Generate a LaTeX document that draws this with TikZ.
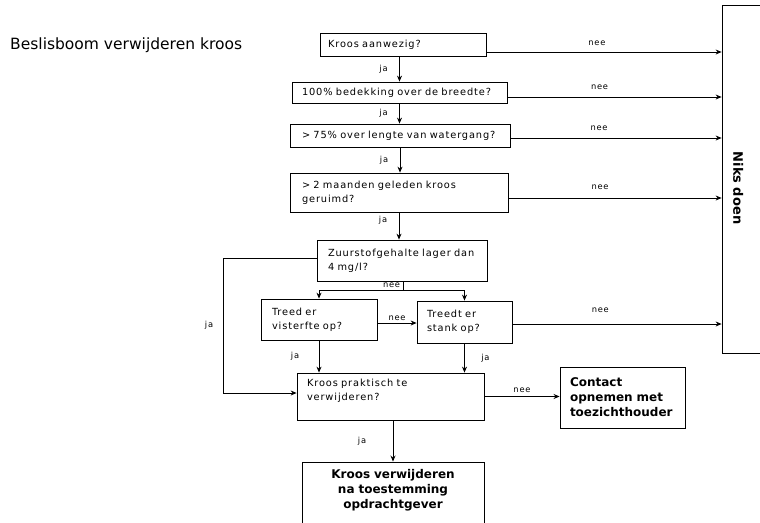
\documentclass[tikz,border=0pt]{standalone}
\usepackage{fontspec}
\setmainfont{DejaVu Sans}
\newfontfamily\boxfont[LetterSpace=9]{DejaVu Sans}
\usetikzlibrary{arrows.meta}
\begin{document}
\begin{tikzpicture}[x=1pt,y=-1pt,
  box/.style={draw, line width=0.8pt, align=left, font=\boxfont\fontsize{9.8}{14}\selectfont, inner ysep=2pt},
  bbox/.style={draw, line width=0.9pt, font=\bfseries\fontsize{12}{15}\selectfont, inner ysep=2pt},
  arr/.style={-{Stealth[length=6pt,width=5pt]}, line width=0.8pt},
  ln/.style={line width=0.8pt},
  lab/.style={font=\boxfont\fontsize{8.3}{10}\selectfont, inner sep=1.5pt}]
\useasboundingbox (0,0) rectangle (760,522);
\node[anchor=base west, inner sep=0, font=\fontsize{15.5}{18}\selectfont] (title) at (10,49) {Beslisboom verwijderen kroos};
% decision boxes
\node[box, text width=150pt, inner xsep=8pt, minimum height=23pt] (b1) at (403,44.5) {Kroos aanwezig?};
\node[box, text width=195pt, inner xsep=10pt, minimum height=21pt] (b2) at (399.5,92.5) {100\% bedekking over de breedte?};
\node[box, text width=196pt, inner xsep=12pt, minimum height=23pt] (b3) at (400,135.5) {> 75\% over lengte van watergang?};
\node[box, text width=194pt, inner xsep=12pt, minimum height=39pt] (b4) at (399,192.5) {> 2 maanden geleden kroos\\geruimd?};
\node[box, text width=148pt, inner xsep=11pt, minimum height=41pt] (b5) at (402,260.5) {Zuurstofgehalte lager dan\\4 mg/l?};
\node[box, text width=94pt, inner xsep=11pt, minimum height=41pt] (b6) at (319,319.5) {Treed er\\visterfte op?};
\node[box, text width=75pt, inner xsep=10pt, minimum height=42pt] (b6b) at (464.5,322) {Treedt er\\stank op?};
\node[box, text width=167pt, inner xsep=10pt, minimum height=47pt] (b7) at (390.5,396.5) {Kroos praktisch te\\verwijderen?\\\mbox{}};
\node[bbox, align=left, text width=105pt, inner xsep=10pt, minimum height=61pt] (b8) at (622.5,397.5) {Contact\\opnemen met\\toezichthouder};
\node[bbox, align=center, text width=162pt, inner xsep=10pt, minimum height=68pt] (b9) at (393,496) {Kroos verwijderen\\na toestemming\\opdrachtgever\\\mbox{}};
\node[draw, line width=0.8pt, rotate=-90, minimum width=348pt, minimum height=48pt, text height=26pt, text depth=0.5pt, font=\bfseries\fontsize{13}{15}\selectfont] (niks) at (746,179) {\hspace*{18pt}Niks doen};
% nee arrows to Niks doen
\coordinate (n1) at ([yshift=-7.5pt]b1.east);
\coordinate (n2) at ([yshift=-4.5pt]b2.east);
\coordinate (n3) at ([yshift=-2.5pt]b3.east);
\coordinate (n4) at ([yshift=-5.5pt]b4.east);
\coordinate (n5) at ([yshift=-2pt]b6b.east);
\draw[arr] (n1) -- node[lab, pos=0.47, above=4pt] {nee} (n1 -| niks.south);
\draw[arr] (n2) -- node[lab, pos=0.43, above=5pt] {nee} (n2 -| niks.south);
\draw[arr] (n3) -- node[lab, pos=0.42, above=5pt] {nee} (n3 -| niks.south);
\draw[arr] (n4) -- node[lab, pos=0.43, above=6pt] {nee} (n4 -| niks.south);
\draw[arr] (n5) -- node[lab, pos=0.42, above=9pt] {nee} (n5 -| niks.south);
% ja arrows main column
\draw[arr] (b1.south -| b2.north) -- node[lab, left=10pt] {ja} (b2.north);
\draw[arr] (b2.south) -- node[lab, left=10pt] {ja} (b2.south |- b3.north);
\draw[arr] (b3.south) -- node[lab, left=10pt] {ja} (b3.south |- b4.north);
\draw[arr] (b4.south) -- node[lab, pos=0.3, left=10pt] {ja} (b4.south |- b5.north);
% split below Zuurstof
\coordinate (sp) at (403,290);
\draw[ln] (b5.south -| sp) -- node[lab, left=1pt] {nee} (sp);
\draw[arr] (sp) -| (b6.north);
\draw[arr] (sp) -| (b6b.north);
% visterfte -> stank
\coordinate (v1) at ([yshift=-3.5pt]b6.east);
\draw[arr] (v1) -- node[lab, above=0pt] {nee} (v1 -| b6b.west);
% left ja loop
\coordinate (lp) at (223,393);
\draw[arr] ([yshift=2.5pt]b5.west) -| node[lab, pos=0.75, left=8pt] {ja} (lp) -- (lp -| b7.west);
% ja down to Kroos praktisch
\draw[arr] (b6.south) -- node[lab, left=18pt] {ja} (b6.south |- b7.north);
\draw[arr] (b6b.south) -- node[lab, right=15pt] {ja} (b6b.south |- b7.north);
% Kroos praktisch -> contact / verwijderen
\draw[arr] (b7.east) -- node[lab, above=2pt] {nee} (b7.east -| b8.west);
\draw[arr] (b9.north |- b7.south) -- node[lab, left=25pt] {ja} (b9.north);
\end{tikzpicture}
\end{document}
